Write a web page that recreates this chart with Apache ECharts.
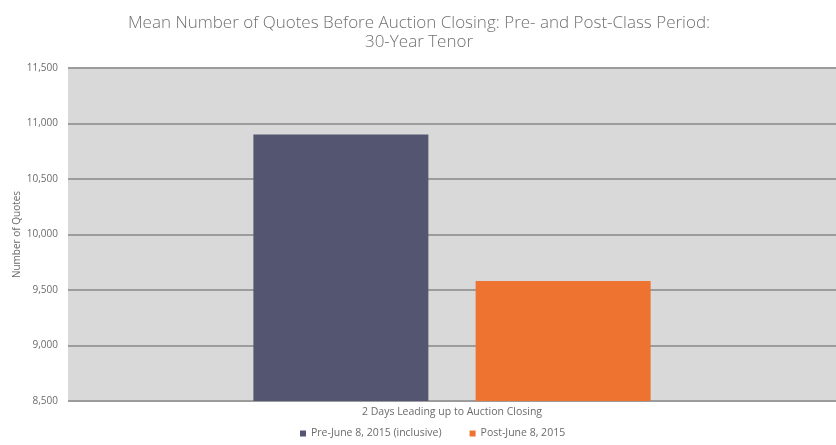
<!DOCTYPE html>
<html>
<head>
<meta charset="utf-8">
<script src="https://cdn.jsdelivr.net/npm/echarts@6/dist/echarts.min.js"></script>
<style>
  html, body { margin: 0; padding: 0; background: #ffffff; }
  #chart { width: 836px; height: 445px; }
</style>
</head>
<body>
<div id="chart"></div>
<script>
// Mean quote counts over the two days leading up to auction closing
const categories = ['2 Days Leading up to Auction Closing'];
const seriesNames = ['Pre-June 8, 2015 (inclusive)', 'Post-June 8, 2015'];
const preValues = [10900];
const postValues = [9580];
const seriesColors = ['#545671', '#ee7330'];

const textColor = '#6b6b6b';
const fontFamily = '"Open Sans", Lato, sans-serif';

const chart = echarts.init(document.getElementById('chart'));
chart.setOption({
  animation: false,
  backgroundColor: '#ffffff',
  textStyle: { fontFamily: fontFamily },
  title: {
    text: 'Mean Number of Quotes Before Auction Closing: Pre- and Post-Class Period:\n30-Year Tenor',
    left: 414,
    top: 9,
    textAlign: 'center',
    textStyle: {
      color: '#707070',
      fontSize: 17,
      fontWeight: 300,
      lineHeight: 19,
      fontFamily: fontFamily
    }
  },
  grid: {
    left: 68,
    right: 0,
    top: 68,
    bottom: 44,
    show: true,
    backgroundColor: '#d9d9d9',
    borderWidth: 0
  },
  legend: {
    bottom: 1,
    left: 295,
    itemWidth: 6,
    itemHeight: 6,
    itemGap: 28,
    itemTextGap: 3,
    icon: 'rect',
    textStyle: { color: textColor, fontSize: 10.5, fontFamily: fontFamily },
    data: seriesNames
  },
  xAxis: {
    type: 'category',
    data: categories,
    axisLine: { show: false },
    axisTick: { show: false },
    axisLabel: { color: textColor, fontSize: 10.5, margin: 6 }
  },
  yAxis: {
    type: 'value',
    min: 8500,
    max: 11500,
    interval: 500,
    name: 'Number of Quotes',
    nameLocation: 'middle',
    nameGap: 46,
    nameMoveOverlap: false,
    nameTextStyle: { color: textColor, fontSize: 10 },
    axisLine: { show: false },
    axisTick: { show: false },
    axisLabel: {
      color: textColor,
      fontSize: 10,
      margin: 10,
      formatter: v => v.toLocaleString('en-US')
    },
    splitLine: { lineStyle: { color: '#9c9c9c', width: 2 } }
  },
  series: [
    {
      name: seriesNames[0],
      type: 'bar',
      data: preValues,
      barWidth: 175,
      barGap: '27%',
      itemStyle: { color: seriesColors[0] }
    },
    {
      name: seriesNames[1],
      type: 'bar',
      data: postValues,
      barWidth: 175,
      barGap: '27%',
      itemStyle: { color: seriesColors[1] }
    }
  ]
});
</script>
</body>
</html>
